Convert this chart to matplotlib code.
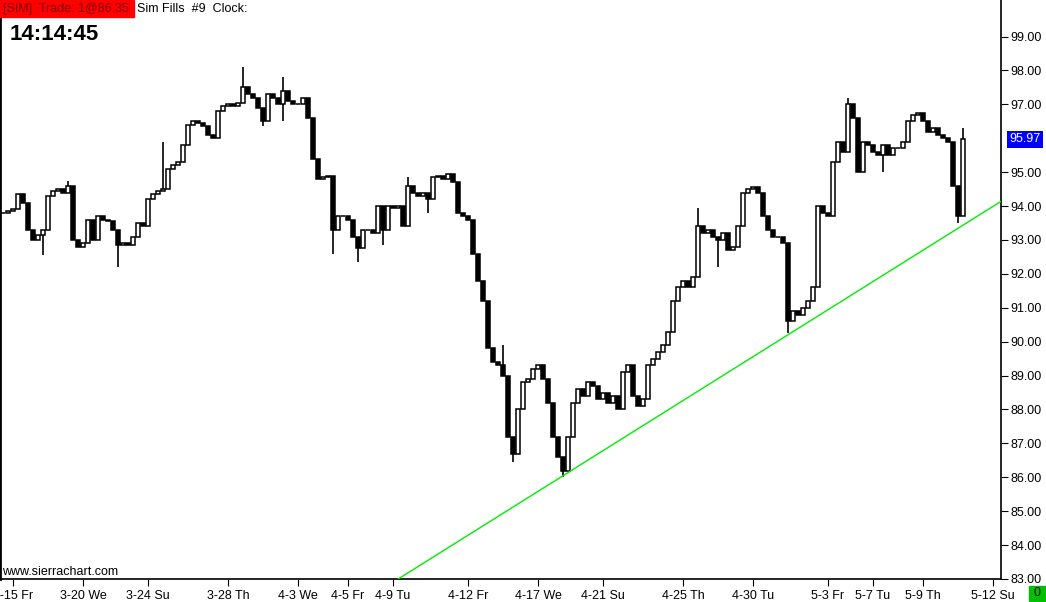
import matplotlib
matplotlib.use("Agg")
import matplotlib.pyplot as plt
from matplotlib.patches import Rectangle
import numpy as np

plt.rcParams['font.family'] = ['Liberation Sans', 'DejaVu Sans']

# closing prices, one per bar
closes = [93.8, 93.85, 93.9, 94.35, 94.1, 93.3, 93.0, 93.15, 93.3, 94.3,
          94.45, 94.5, 94.4, 94.6, 93.0, 92.8, 92.9, 93.6, 93.0, 93.7,
          93.6, 93.55, 93.3, 92.85, 92.9, 92.85, 93.1, 93.5, 93.4, 94.2,
          94.35, 94.45, 94.5, 95.1, 95.2, 95.3, 95.8, 96.4, 96.5, 96.45,
          96.35, 96.1, 96.0, 96.8, 96.95, 97.0, 96.95, 97.05, 97.5, 97.3,
          97.2, 96.9, 96.5, 97.3, 97.2, 97.0, 97.4, 97.1, 97.0, 97.0,
          97.2, 96.6, 95.4, 94.8, 94.85, 94.9, 93.3, 93.7, 93.7, 93.6,
          93.1, 92.75, 93.3, 93.3, 93.2, 94.0, 93.3, 94.0, 93.95, 94.0,
          93.4, 94.6, 94.4, 94.3, 94.4, 94.2, 94.85, 94.9, 94.8, 94.95,
          94.7, 93.8, 93.7, 93.6, 92.6, 91.8, 91.2, 89.8, 89.4, 89.3,
          89.0, 87.2, 86.7, 88.0, 88.8, 88.9, 89.2, 89.3, 88.9, 88.2,
          87.2, 86.6, 86.2, 87.2, 88.2, 88.6, 88.4, 88.8, 88.7, 88.3,
          88.5, 88.2, 88.4, 88.0, 89.1, 89.3, 88.4, 88.1, 88.3, 89.3,
          89.5, 89.7, 89.9, 90.3, 91.2, 91.6, 91.8, 91.6, 91.9, 93.4,
          93.2, 93.3, 93.1, 93.0, 93.2, 92.7, 92.8, 93.4, 94.4, 94.5,
          94.55, 94.4, 93.7, 93.3, 93.1, 93.1, 92.9, 90.6, 90.9, 90.8,
          91.0, 91.2, 91.6, 94.0, 93.8, 93.7, 95.3, 95.9, 95.6, 97.0,
          96.6, 95.0, 95.9, 95.8, 95.6, 95.5, 95.8, 95.5, 95.7, 95.7,
          95.9, 96.5, 96.7, 96.75, 96.5, 96.2, 96.3, 96.1, 96.0, 95.9,
          94.6, 93.7, 95.97]

# long wicks
spike_hi_idx = [13, 32, 48, 56, 81, 100, 139, 169, 192]
spike_hi_val = [94.75, 95.9, 98.1, 97.8, 94.85, 89.9, 93.95, 97.2, 96.3]
spike_lo_idx = [8, 23, 52, 56, 66, 71, 76, 85, 102, 112, 143, 157, 176, 191]
spike_lo_val = [92.55, 92.2, 96.35, 96.5, 92.6, 92.35, 92.85, 93.8, 86.45,
                86.0, 92.2, 90.25, 95.0, 93.5]

tick_idx = [2, 16, 29, 45, 59, 69, 78, 93, 107, 120, 136, 150, 165, 174, 184, 198]
tick_labels = ["3-15 Fr", "3-20 We", "3-24 Su", "3-28 Th", "4-3 We", "4-5 Fr",
               "4-9 Tu", "4-12 Fr", "4-17 We", "4-21 Su", "4-25 Th", "4-30 Tu",
               "5-3 Fr", "5-7 Tu", "5-9 Th", "5-12 Su"]
price_ticks = [83, 84, 85, 86, 87, 88, 89, 90, 91, 92, 93, 94, 95, 97, 98, 99]

trend_idx = [111.5, 157.5]
trend_price = [86.0, 90.25]
last_price = 95.97

closes = np.array(closes)
n = len(closes)
idx = np.arange(n)
opens = np.concatenate([[closes[0]], closes[:-1]])
highs = np.maximum(opens, closes)
lows = np.minimum(opens, closes)
for i, v in zip(spike_hi_idx, spike_hi_val):
    highs[i] = max(highs[i], v)
for i, v in zip(spike_lo_idx, spike_lo_val):
    lows[i] = min(lows[i], v)

W, H = 1046, 602
fig = plt.figure(figsize=(W / 100, H / 100), dpi=100)
ax = fig.add_axes([0, 23 / H, 1001 / W, 579 / H])

ax.vlines(idx, lows, highs, color='black', lw=1.2, zorder=2)
up = closes >= opens
ax.bar(idx, np.abs(closes - opens), bottom=np.minimum(opens, closes),
       width=0.72, color=np.where(up, 'white', 'black'), edgecolor='black',
       linewidth=1.1, zorder=3)

ax.axline((trend_idx[0], trend_price[0]), (trend_idx[1], trend_price[1]),
          color='#00EE00', lw=1, zorder=4)

ax.set_xlim(-0.6, -0.6 + 1001 / 5)
ax.set_ylim(83.0, 83.0 + 579 / 33.9)

ax.set_xticks(tick_idx, tick_labels)
ax.yaxis.tick_right()
ax.set_yticks(price_ticks, [f"{p:.2f}" for p in price_ticks])
ax.tick_params(axis='x', length=5, pad=3, labelsize=9, colors='black')
ax.tick_params(axis='y', length=5, pad=2, labelsize=9, colors='black')
ax.spines['top'].set_visible(False)
ax.spines['left'].set_linewidth(2)
for s in ['right', 'bottom']:
    ax.spines[s].set_linewidth(1.2)

ax.text(1.008, last_price, "95.97", transform=ax.get_yaxis_transform(),
        ha='left', va='center', fontsize=9, color='white',
        bbox=dict(facecolor='#0000FF', edgecolor='none', pad=1.8))

# header
fig.add_artist(Rectangle((0, 1 - 17 / H), 134 / W, 17 / H,
                         transform=fig.transFigure, color='#FF0000', zorder=5))
fig.text(3 / W, 1 - 9 / H, "[SIM]  Trade: 1@86.35", fontsize=9,
         color='#800000', va='center', zorder=6)
fig.text(137 / W, 1 - 9 / H, "Sim Fills  #9  Clock:", fontsize=9,
         color='black', va='center', zorder=6)
fig.text(10 / W, 1 - 35 / H, "14:14:45", fontsize=16, fontweight='bold',
         color='black', va='center', zorder=6)
fig.text(2 / W, 1 - 572 / H, "www.sierrachart.com", fontsize=9,
         color='black', va='center', zorder=6)

fig.add_artist(Rectangle((1029 / W, 1 / H), 16 / W, 15 / H,
                         transform=fig.transFigure, color='#00C000', zorder=5))
fig.text(1037 / W, 8.5 / H, "0", fontsize=9, color='black',
         ha='center', va='center', zorder=6)

fig.savefig("out.png", dpi=100)
